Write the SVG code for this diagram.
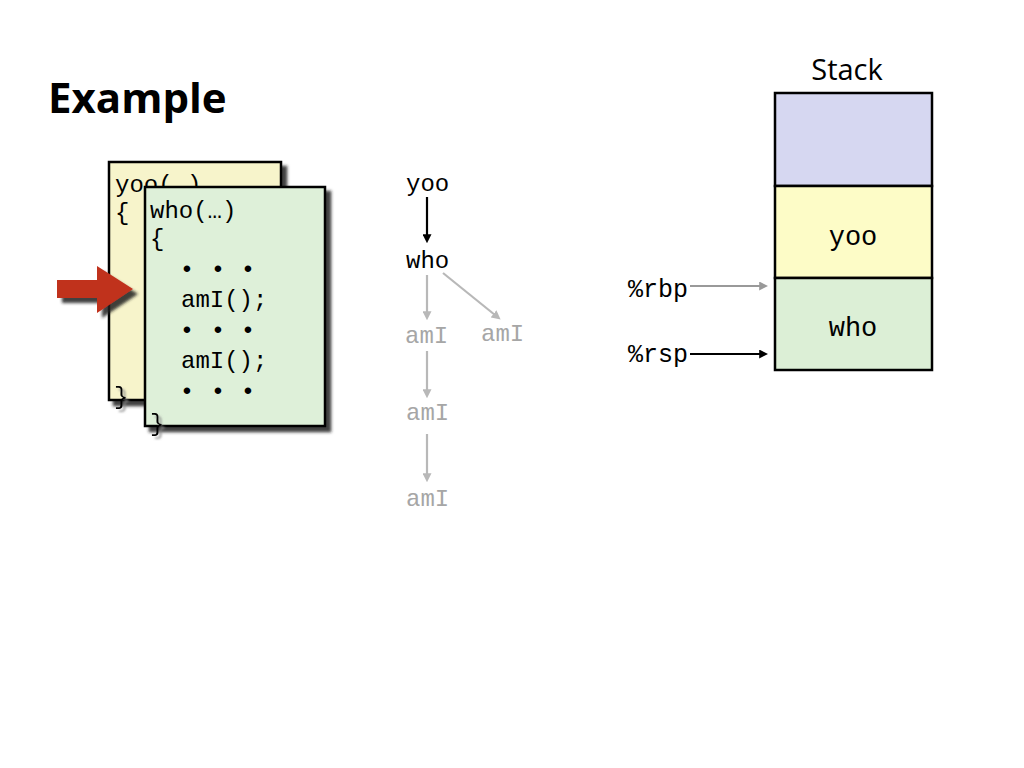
<svg xmlns="http://www.w3.org/2000/svg" width="1024" height="768" viewBox="0 0 1024 768">
<style>
.code{font-family:"Liberation Mono","DejaVu Sans Mono",monospace;font-size:24px;fill:#000}
.gray{fill:#a6a6a6}
.title{font-family:"Open Sans","Liberation Sans",sans-serif;font-weight:bold}
.box{stroke:#000;stroke-width:2.5}
.cell{stroke:#000;stroke-width:2.5}
</style>
<defs>
<filter id="sh" x="-10%" y="-10%" width="130%" height="130%">
<feDropShadow dx="5" dy="5" stdDeviation="1.8" flood-color="#222" flood-opacity="0.85"/>
</filter>
<filter id="tsh" x="-50%" y="-50%" width="200%" height="200%">
<feDropShadow dx="3" dy="3" stdDeviation="1" flood-color="#888" flood-opacity="0.8"/>
</filter>
<marker id="ab" viewBox="0 0 10 10" refX="2" refY="5" markerWidth="9" markerHeight="9" orient="auto" markerUnits="userSpaceOnUse">
<path d="M0,0 L10,5 L0,10 z" fill="#000"/>
</marker>
<marker id="ag" viewBox="0 0 10 10" refX="2" refY="5" markerWidth="9" markerHeight="9" orient="auto" markerUnits="userSpaceOnUse">
<path d="M0,0 L10,5 L0,10 z" fill="#b8b8b8"/>
</marker>
<marker id="ag2" viewBox="0 0 10 10" refX="2" refY="5" markerWidth="9" markerHeight="9" orient="auto" markerUnits="userSpaceOnUse">
<path d="M0,0 L10,5 L0,10 z" fill="#999"/>
</marker>
</defs>
<rect width="1024" height="768" fill="#fff"/>
<text class="title" x="48" y="113" font-size="42">Example</text>

<g id="yoo-code">
<rect class="box" x="109" y="162" width="172" height="238" fill="#f7f4cb" filter="url(#sh)"/>
<text class="code" x="115" y="192">yoo(…)</text>
<text class="code" x="115" y="220">{</text>
<text class="code" x="114" y="404" filter="url(#tsh)">}</text>
</g>

<g id="who-code">
<rect class="box" x="145" y="187" width="180" height="239" fill="#def0d9" filter="url(#sh)"/>
<text class="code" x="150" y="218">who(…)</text>
<text class="code" x="150" y="246">{</text>
<text class="code" x="187 218 248" y="277" text-anchor="middle">•••</text>
<text class="code" x="181" y="307">amI();</text>
<text class="code" x="187 218 248" y="338" text-anchor="middle">•••</text>
<text class="code" x="181" y="368">amI();</text>
<text class="code" x="187 218 248" y="399" text-anchor="middle">•••</text>
<text class="code" x="150" y="431" filter="url(#tsh)">}</text>
</g>

<g id="pc-arrow">
<polygon points="57,280 97,280 97,266 133,289 97,313 97,298 57,298" fill="#c0311e" filter="url(#sh)"/>
</g>

<g id="callgraph">
<text class="code" x="406" y="191">yoo</text>
<text class="code" x="406" y="268">who</text>
<text class="code gray" x="405" y="343">amI</text>
<text class="code gray" x="481" y="341">amI</text>
<text class="code gray" x="406" y="420">amI</text>
<text class="code gray" x="406" y="506">amI</text>
</g>
<g id="connectors">
<line x1="427" y1="197" x2="427" y2="236" stroke="#000" stroke-width="2.2" marker-end="url(#ab)"/>
<line x1="427" y1="275" x2="427" y2="313" stroke="#b8b8b8" stroke-width="2.2" marker-end="url(#ag)"/>
<line x1="443" y1="273" x2="495" y2="315" stroke="#b8b8b8" stroke-width="2.2" marker-end="url(#ag)"/>
<line x1="427" y1="351" x2="427" y2="391" stroke="#b8b8b8" stroke-width="2.2" marker-end="url(#ag)"/>
<line x1="427" y1="434" x2="427" y2="475" stroke="#b8b8b8" stroke-width="2.2" marker-end="url(#ag)"/>
<line x1="690" y1="286" x2="761" y2="286" stroke="#999" stroke-width="2.2" marker-end="url(#ag2)"/>
<line x1="690" y1="354" x2="761" y2="354" stroke="#000" stroke-width="2.2" marker-end="url(#ab)"/>
</g>

<g id="stack">
<text x="847" y="80" font-family="'Open Sans','Liberation Sans',sans-serif" font-size="29" text-anchor="middle">Stack</text>
<rect class="cell" x="775" y="93" width="157" height="93" fill="#d6d7f1"/>
<rect class="cell" x="775" y="186" width="157" height="92" fill="#fdfcc7"/>
<rect class="cell" x="775" y="278" width="157" height="92" fill="#dcefd6"/>
<text class="code" x="853" y="245" text-anchor="middle" font-size="27" style="font-size:27px">yoo</text>
<text class="code" x="853" y="336" text-anchor="middle" style="font-size:27px">who</text>
</g>
<g id="registers">
<text class="code" x="628" y="297" style="font-size:25px">%rbp</text>
<text class="code" x="628" y="362" style="font-size:25px">%rsp</text>
</g>
</svg>
